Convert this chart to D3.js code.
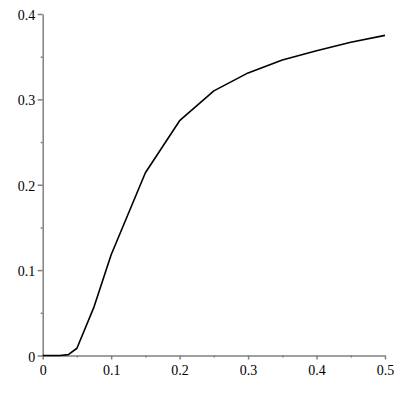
<!DOCTYPE html>
<html><head><meta charset="utf-8">
<script src="https://cdn.jsdelivr.net/npm/d3@7"></script>
<style>body{margin:0;background:#fff}svg{display:block}</style>
</head><body>
<script>
const xValues = [0, 0.025, 0.0375, 0.05, 0.075, 0.1, 0.15, 0.2, 0.25, 0.3, 0.35, 0.4, 0.45, 0.5];
const yValues = [0, 0, 0.001, 0.0085, 0.057, 0.118, 0.214, 0.275, 0.310, 0.331, 0.346, 0.357, 0.367, 0.375];
const xTicks = [0, 0.1, 0.2, 0.3, 0.4, 0.5];
const yTicks = [0, 0.1, 0.2, 0.3, 0.4];
const xMinor = [0.05, 0.15, 0.25, 0.35, 0.45];
const yMinor = [0.05, 0.15, 0.25, 0.35];

const W = 400, H = 400;
const svg = d3.select("body").append("svg").attr("width", W).attr("height", H);
const x = d3.scaleLinear().domain([0, 0.5]).range([42.7, 385]);
const y = d3.scaleLinear().domain([0, 0.4]).range([355.5, 14]);
const axisColor = "#808080";
const font = "'Liberation Serif', 'Times New Roman', serif";

// x axis
const gx = svg.append("g").attr("transform", `translate(0,${y(0)})`);
gx.call(d3.axisBottom(x).tickValues(xTicks).tickSize(4).tickSizeOuter(0).tickFormat(d => d3.format("")(d)));
const gxm = svg.append("g").attr("transform", `translate(0,${y(0)})`);
gxm.call(d3.axisBottom(x).tickValues(xMinor).tickSize(2).tickSizeOuter(0).tickFormat(""));
gxm.select(".domain").remove();

// y axis
const gy = svg.append("g").attr("transform", `translate(${x(0)},0)`);
gy.call(d3.axisLeft(y).tickValues(yTicks).tickSize(5).tickSizeOuter(0).tickFormat(d => d3.format("")(d)));
const gym = svg.append("g").attr("transform", `translate(${x(0)},0)`);
gym.call(d3.axisLeft(y).tickValues(yMinor).tickSize(2).tickSizeOuter(0).tickFormat(""));
gym.select(".domain").remove();

svg.selectAll("g").attr("font-family", null).attr("font-size", null);
svg.selectAll(".domain, .tick line").attr("stroke", axisColor).attr("stroke-width", 1.5);
svg.selectAll(".tick text").style("font-family", font).style("font-size", "14px").attr("fill", "#000");
gx.selectAll(".tick text").attr("dy", 0).attr("y", 19.5);
gy.selectAll(".tick text").attr("x", -7.5).attr("dy", 0).attr("y", 5.5);

// curve
const data = xValues.map((v, i) => [v, yValues[i]]);
svg.append("path").datum(data)
  .attr("fill", "none").attr("stroke", "#000").attr("stroke-width", 1.6)
  .attr("stroke-linejoin", "round")
  .attr("d", d3.line().x(d => x(d[0])).y(d => y(d[1])));
</script>
</body></html>
